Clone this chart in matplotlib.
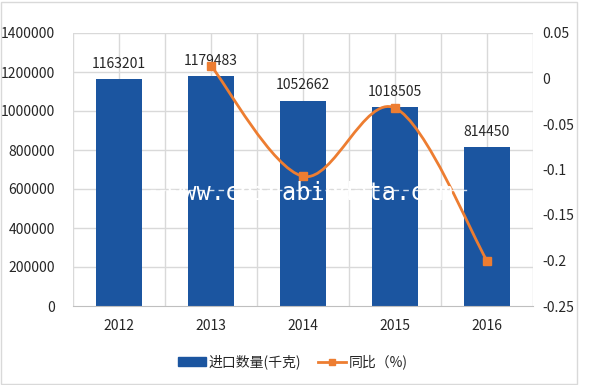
import matplotlib
matplotlib.use("Agg")
import matplotlib.pyplot as plt
import numpy as np
from matplotlib.lines import Line2D
from matplotlib.patches import Patch, Rectangle
from matplotlib.path import Path
from matplotlib.patches import PathPatch

plt.rcParams['font.family'] = ['Noto Sans CJK SC', 'DejaVu Sans']

years = ['2012', '2013', '2014', '2015', '2016']
qty = [1163201, 1179483, 1052662, 1018505, 814450]
yoy = [None, 0.0140, -0.1075, -0.0324, -0.2003]
left_ticks = [0, 200000, 400000, 600000, 800000, 1000000, 1200000, 1400000]
right_ticks = [-0.25, -0.2, -0.15, -0.1, -0.05, 0, 0.05]
right_labels = ['-0.25', '-0.2', '-0.15', '-0.1', '-0.05', '0', '0.05']
bar_label = '进口数量(千克)'
line_label = '同比（%)'

BAR = '#1B55A0'
ORANGE = '#ED7D31'
GRID = '#D9D9D9'
TXT = '#262626'

fig = plt.figure(figsize=(6, 3.85), dpi=100)
W, H = 600, 385
ax = fig.add_axes([73 / W, 1 - 306 / H, (533 - 73) / W, (306 - 33) / H])
ax2 = ax.twinx()

x = np.arange(len(years))
ax.set_zorder(1)
ax2.set_zorder(2)
ax.patch.set_visible(False)

# grid: vertical lines at half-category steps
for gx in np.arange(-0.5, len(years), 0.5):
    ax.axvline(gx, color=GRID, lw=1, zorder=0)
for gy in left_ticks[1:]:
    ax.axhline(gy, color=GRID, lw=1, zorder=0)

ax.bar(x, qty, width=0.5, color=BAR, zorder=2)
for xi, v in zip(x, qty):
    ax.annotate(str(v), (xi, v), xytext=(0, 6), textcoords='offset points',
                ha='center', va='bottom', fontsize=10, color=TXT, zorder=5)

ax.set_xlim(-0.5, len(years) - 0.5)
ax.set_ylim(0, 1400000)
ax.set_yticks(left_ticks)
ax.set_yticklabels([str(t) for t in left_ticks])
ax.set_xticks(x)
ax.set_xticklabels(years)
ax.tick_params(axis='y', length=0, pad=13, labelsize=10, labelcolor=TXT)
ax.tick_params(axis='x', length=0, pad=9, labelsize=10, labelcolor=TXT)
for s in ['top', 'right', 'left']:
    ax.spines[s].set_visible(False)
ax.spines['bottom'].set_color('#BFBFBF')

# smoothed line (Excel-like bezier smoothing)
px = [xi for xi, v in zip(x, yoy) if v is not None]
py = [v for v in yoy if v is not None]
pts = np.column_stack([px, py]).astype(float)
n = len(pts)
verts = [tuple(pts[0])]
codes = [Path.MOVETO]
for i in range(n - 1):
    p0 = pts[i - 1] if i > 0 else pts[i]
    p1 = pts[i]
    p2 = pts[i + 1]
    p3 = pts[i + 2] if i + 2 < n else pts[i + 1]
    c1 = p1 + (p2 - p0) / 6.0
    c2 = p2 - (p3 - p1) / 6.0
    verts += [tuple(c1), tuple(c2), tuple(p2)]
    codes += [Path.CURVE4] * 3
path = Path(verts, codes)
ax2.add_patch(PathPatch(path, facecolor='none', edgecolor=ORANGE, lw=2.0, zorder=3))
ax2.plot(px, py, linestyle='none', marker='s', ms=6, color=ORANGE, zorder=4)

ax2.set_ylim(-0.25, 0.05)
ax2.set_yticks(right_ticks)
ax2.set_yticklabels(right_labels)
ax2.tick_params(axis='y', length=0, pad=7, labelsize=10, labelcolor=TXT)
for s in ['top', 'right', 'left', 'bottom']:
    ax2.spines[s].set_visible(False)

# watermark
fig.text(311 / W, 1 - 193 / H, 'www.chinabigdata.com', family='DejaVu Sans Mono',
         fontsize=17, color='white', ha='center', va='center', zorder=10)
fig.add_artist(Line2D([150 / W, 470 / W], [1 - 190 / H, 1 - 190 / H], color='white',
                      lw=1, ls=(0, (4, 3)), alpha=0.8, zorder=9))

# legend
handles = [Patch(facecolor=BAR, edgecolor=BAR),
           Line2D([0], [0], color=ORANGE, lw=2, marker='s', ms=5)]
fig.legend(handles, [bar_label, line_label], loc='center', ncol=2,
           bbox_to_anchor=(293 / W, 1 - 362 / H), frameon=False, fontsize=10,
           handlelength=2.0, handletextpad=0.2, columnspacing=1.2,
           labelcolor=TXT)

# outer border
fig.add_artist(Rectangle((1 / W, 1.5 / H), 576 / W, 382 / H, transform=fig.transFigure,
                         fill=False, edgecolor=GRID, lw=1))

fig.savefig('out.png', dpi=100)
